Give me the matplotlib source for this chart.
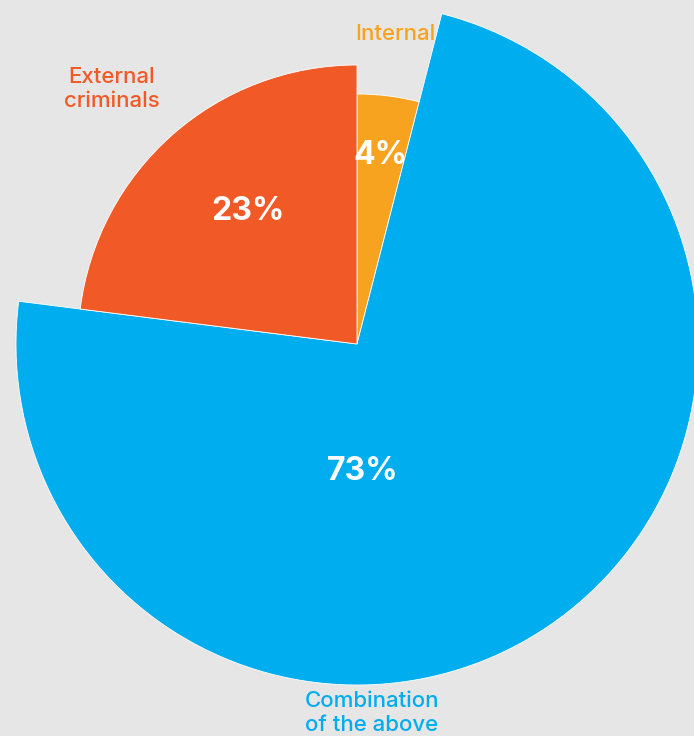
import matplotlib.pyplot as plt
from matplotlib.patches import Wedge

# data
labels = ['Internal', 'Combination\nof the above', 'External\ncriminals']
shares = [4, 73, 23]
pct_text = ['4%', '73%', '23%']

# styling
colors = ['#f8a31f', '#00adee', '#f15a27']
radii = [250, 341, 279]
bg = '#e6e6e6'

W, H = 694, 736
cx, cy = 357, 344  # pixel position of pie centre

fig = plt.figure(figsize=(W / 100, H / 100), dpi=100, facecolor=bg)
ax = fig.add_axes([0, 0, 1, 1])
ax.set_facecolor(bg)
ax.set_xlim(-cx, W - cx)
ax.set_ylim(-(H - cy), cy)
ax.set_aspect('equal')
ax.axis('off')

plt.rcParams['font.family'] = ['Inter', 'DejaVu Sans']

# clockwise from 12 o'clock
start = 0.0
for share, r, col in zip(shares, radii, colors):
    a0 = start
    a1 = start + share / sum(shares) * 360
    w = Wedge((0, 0), r, 90 - a1, 90 - a0, facecolor=col, edgecolor='white', linewidth=0.6)
    ax.add_patch(w)
    start = a1

# percentage labels (pixel coords from top-left -> data)
pct_pos = [(380, 156), (363, 472), (248, 211)]
for t, (px, py) in zip(pct_text, pct_pos):
    ax.text(px - cx, cy - py, t, color='white', fontsize=23, fontweight='bold',
            ha='center', va='center')

name_pos = [(395, 34), (372, 713), (112, 89)]
for lab, col, (px, py) in zip(labels, colors, name_pos):
    ax.text(px - cx, cy - py, lab, color=col, fontsize=16, fontweight='medium',
            ha='center', va='center', linespacing=1.25)

fig.savefig('out.png', dpi=100, facecolor=bg)
